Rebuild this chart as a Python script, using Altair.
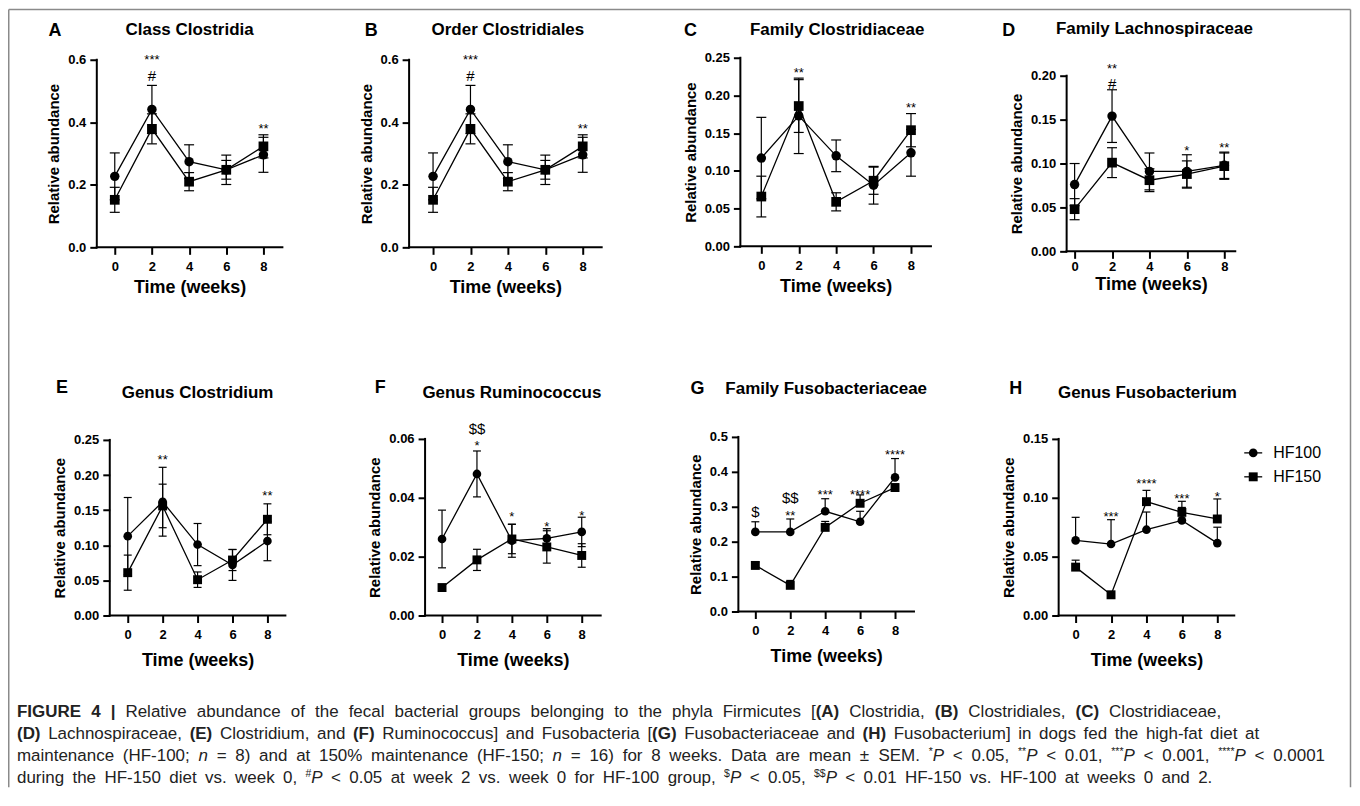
import re
import altair as alt
import pandas as pd

FONT = "Liberation Sans"

# ---------------- data (mean, SEM) ----------------
WEEKS = [0, 2, 4, 6, 8]
GROUPS = ["HF100", "HF150"]

CLOSTRIDIA_HF100 = [0.227, 0.441, 0.274, 0.248, 0.296]
CLOSTRIDIA_HF100_SEM = [0.075, 0.077, 0.054, 0.047, 0.056]
CLOSTRIDIA_HF150 = [0.152, 0.379, 0.210, 0.248, 0.323]
CLOSTRIDIA_HF150_SEM = [0.040, 0.048, 0.029, 0.030, 0.037]

CLOSTRIDIALES_HF100 = [0.227, 0.441, 0.274, 0.248, 0.296]
CLOSTRIDIALES_HF100_SEM = [0.075, 0.077, 0.054, 0.047, 0.056]
CLOSTRIDIALES_HF150 = [0.152, 0.379, 0.210, 0.248, 0.323]
CLOSTRIDIALES_HF150_SEM = [0.040, 0.048, 0.029, 0.030, 0.037]

CLOSTRIDIACEAE_HF100 = [0.117, 0.173, 0.120, 0.081, 0.124]
CLOSTRIDIACEAE_HF100_SEM = [0.054, 0.050, 0.021, 0.025, 0.031]
CLOSTRIDIACEAE_HF150 = [0.066, 0.186, 0.059, 0.087, 0.154]
CLOSTRIDIACEAE_HF150_SEM = [0.027, 0.035, 0.012, 0.018, 0.022]

LACHNO_HF100 = [0.076, 0.154, 0.091, 0.091, 0.098]
LACHNO_HF100_SEM = [0.024, 0.030, 0.021, 0.019, 0.015]
LACHNO_HF150 = [0.048, 0.101, 0.081, 0.088, 0.097]
LACHNO_HF150_SEM = [0.012, 0.017, 0.013, 0.015, 0.015]

CLOSTRIDIUM_HF100 = [0.113, 0.162, 0.101, 0.072, 0.106]
CLOSTRIDIUM_HF100_SEM = [0.055, 0.049, 0.030, 0.022, 0.028]
CLOSTRIDIUM_HF150 = [0.061, 0.156, 0.051, 0.079, 0.137]
CLOSTRIDIUM_HF150_SEM = [0.025, 0.031, 0.011, 0.015, 0.022]

RUMINO_HF100 = [0.0260, 0.0481, 0.0254, 0.0262, 0.0284]
RUMINO_HF100_SEM = [0.0098, 0.0078, 0.0056, 0.0033, 0.0050]
RUMINO_HF150 = [0.0095, 0.0189, 0.0260, 0.0233, 0.0204]
RUMINO_HF150_SEM = [0.0008, 0.0036, 0.0050, 0.0055, 0.0040]

FUSOBACTERIACEAE_HF100 = [0.228, 0.228, 0.287, 0.257, 0.384]
FUSOBACTERIACEAE_HF100_SEM = [0.029, 0.037, 0.036, 0.030, 0.054]
FUSOBACTERIACEAE_HF150 = [0.132, 0.075, 0.241, 0.310, 0.355]
FUSOBACTERIACEAE_HF150_SEM = [0.009, 0.014, 0.017, 0.024, 0.010]

FUSOBACTERIUM_HF100 = [0.0638, 0.0607, 0.0729, 0.0808, 0.0615]
FUSOBACTERIUM_HF100_SEM = [0.0196, 0.0207, 0.0150, 0.0110, 0.0135]
FUSOBACTERIUM_HF150 = [0.0411, 0.0176, 0.0967, 0.0876, 0.0820]
FUSOBACTERIUM_HF150_SEM = [0.0059, 0.0020, 0.0096, 0.0094, 0.0170]

# significance marks: week, height (visual centre), label
SIG_A_WEEK = [2, 2, 8]
SIG_A_Y = [0.598, 0.550, 0.390]
SIG_A_TEXT = ["***", "#", "**"]
SIG_B_WEEK = [2, 2, 8]
SIG_B_Y = [0.598, 0.550, 0.390]
SIG_B_TEXT = ["***", "#", "**"]
SIG_C_WEEK = [2, 8]
SIG_C_Y = [0.235, 0.188]
SIG_C_TEXT = ["**", "**"]
SIG_D_WEEK = [2, 2, 6, 8]
SIG_D_Y = [0.2076, 0.1905, 0.1185, 0.1216]
SIG_D_TEXT = ["**", "#", "*", "**"]
SIG_E_WEEK = [2, 8]
SIG_E_Y = [0.227, 0.175]
SIG_E_TEXT = ["**", "**"]
SIG_F_WEEK = [2, 2, 4, 6, 8]
SIG_F_Y = [0.0634, 0.0588, 0.0346, 0.0314, 0.0350]
SIG_F_TEXT = ["$$", "*", "*", "*", "*"]
SIG_G_WEEK = [0, 2, 2, 4, 6, 8]
SIG_G_Y = [0.284, 0.325, 0.285, 0.344, 0.344, 0.458]
SIG_G_TEXT = ["$", "$$", "**", "***", "****", "****"]
SIG_H_WEEK = [2, 4, 6, 8]
SIG_H_Y = [0.087, 0.1147, 0.102, 0.1034]
SIG_H_TEXT = ["***", "****", "***", "*"]

TITLES = ["Class Clostridia", "Order Clostridiales", "Family Clostridiaceae",
          "Family Lachnospiraceae", "Genus Clostridium", "Genus Ruminococcus",
          "Family Fusobacteriaceae", "Genus Fusobacterium"]
LETTERS = ["A", "B", "C", "D", "E", "F", "G", "H"]

CAPTION_LINES = [
    [("b", "FIGURE 4 |"), ("r", " Relative abundance of the fecal bacterial groups belonging to the phyla Firmicutes ["),
     ("b", "(A)"), ("r", " Clostridia, "), ("b", "(B)"), ("r", " Clostridiales, "), ("b", "(C)"),
     ("r", " Clostridiaceae,")],
    [("b", "(D)"), ("r", " Lachnospiraceae, "), ("b", "(E)"), ("r", " Clostridium, and "), ("b", "(F)"),
     ("r", " Ruminococcus] and Fusobacteria ["), ("b", "(G)"), ("r", " Fusobacteriaceae and "), ("b", "(H)"),
     ("r", " Fusobacterium] in dogs fed the high-fat diet at")],
    [("r", "maintenance (HF-100; "), ("i", "n"), ("r", " = 8) and at 150% maintenance (HF-150; "), ("i", "n"),
     ("r", " = 16) for 8 weeks. Data are mean \u00b1 SEM. "), ("s", "*"), ("i", "P"), ("r", " < 0.05, "),
     ("s", "**"), ("i", "P"), ("r", " < 0.01, "), ("s", "***"), ("i", "P"), ("r", " < 0.001, "),
     ("s", "****"), ("i", "P"), ("r", " < 0.0001")],
    [("r", "during the HF-150 diet vs. week 0, "), ("s", "#"), ("i", "P"),
     ("r", " < 0.05 at week 2 vs. week 0 for HF-100 group, "), ("s", "$"), ("i", "P"), ("r", " < 0.05, "),
     ("s", "$$"), ("i", "P"), ("r", " < 0.01 HF-150 vs. HF-100 at weeks 0 and 2.")],
]

PANELS = [
    dict(m100=CLOSTRIDIA_HF100, s100=CLOSTRIDIA_HF100_SEM, m150=CLOSTRIDIA_HF150, s150=CLOSTRIDIA_HF150_SEM,
         yticks=[0, 0.2, 0.4, 0.6], fmt=".1f", both=True, sig=(SIG_A_WEEK, SIG_A_Y, SIG_A_TEXT)),
    dict(m100=CLOSTRIDIALES_HF100, s100=CLOSTRIDIALES_HF100_SEM, m150=CLOSTRIDIALES_HF150, s150=CLOSTRIDIALES_HF150_SEM,
         yticks=[0, 0.2, 0.4, 0.6], fmt=".1f", both=True, sig=(SIG_B_WEEK, SIG_B_Y, SIG_B_TEXT)),
    dict(m100=CLOSTRIDIACEAE_HF100, s100=CLOSTRIDIACEAE_HF100_SEM, m150=CLOSTRIDIACEAE_HF150, s150=CLOSTRIDIACEAE_HF150_SEM,
         yticks=[0, 0.05, 0.10, 0.15, 0.20, 0.25], fmt=".2f", both=True, sig=(SIG_C_WEEK, SIG_C_Y, SIG_C_TEXT)),
    dict(m100=LACHNO_HF100, s100=LACHNO_HF100_SEM, m150=LACHNO_HF150, s150=LACHNO_HF150_SEM,
         yticks=[0, 0.05, 0.10, 0.15, 0.20], fmt=".2f", both=True, sig=(SIG_D_WEEK, SIG_D_Y, SIG_D_TEXT)),
    dict(m100=CLOSTRIDIUM_HF100, s100=CLOSTRIDIUM_HF100_SEM, m150=CLOSTRIDIUM_HF150, s150=CLOSTRIDIUM_HF150_SEM,
         yticks=[0, 0.05, 0.10, 0.15, 0.20, 0.25], fmt=".2f", both=True, sig=(SIG_E_WEEK, SIG_E_Y, SIG_E_TEXT)),
    dict(m100=RUMINO_HF100, s100=RUMINO_HF100_SEM, m150=RUMINO_HF150, s150=RUMINO_HF150_SEM,
         yticks=[0, 0.02, 0.04, 0.06], fmt=".2f", both=True, sig=(SIG_F_WEEK, SIG_F_Y, SIG_F_TEXT)),
    dict(m100=FUSOBACTERIACEAE_HF100, s100=FUSOBACTERIACEAE_HF100_SEM, m150=FUSOBACTERIACEAE_HF150,
         s150=FUSOBACTERIACEAE_HF150_SEM, yticks=[0, 0.1, 0.2, 0.3, 0.4, 0.5], fmt=".1f", both=False,
         sig=(SIG_G_WEEK, SIG_G_Y, SIG_G_TEXT)),
    dict(m100=FUSOBACTERIUM_HF100, s100=FUSOBACTERIUM_HF100_SEM, m150=FUSOBACTERIUM_HF150,
         s150=FUSOBACTERIUM_HF150_SEM, yticks=[0, 0.05, 0.10, 0.15], fmt=".2f", both=False,
         sig=(SIG_H_WEEK, SIG_H_Y, SIG_H_TEXT)),
]

# ---------------- layout (page pixels) ----------------
CW, CH = 320, 340
CELL_LEFT = [40, 360, 680, 1000]
ROW_TOP = [40, 380]
# y-axis x, tick-0 x, tick-8 x, x-axis end, top of y-axis, x-axis y
GEOM = [(97, 115, 264, 283, 59, 247), (410, 434, 584, 603, 59, 247),
        (742, 763, 913, 933, 57, 246), (1069, 1077, 1227, 1238, 75, 251),
        (110, 128, 268, 286, 440, 616), (426, 443, 583, 602, 439, 616),
        (740, 757, 897, 916, 437, 612), (1061, 1078, 1220, 1237, 439, 616)]
# x-axis label padding / title padding per panel
XPAD = [(6, 5), (6, 5), (6, 5), (2, 2), (6, 10), (6, 10), (6, 10), (6, 10)]
TITLE_XY = [(190, 29), (509, 29), (839, 29), (1157, 28), (198, 393), (513, 393), (828, 389), (1150, 393)]
LETTER_XY = [(55, 30), (372, 30), (692, 30), (1011, 30), (62, 388), (381, 388), (699, 389), (1018, 389)]
STAR_FS, SYM_FS = 13, 15
ASC, DESC = 0.905, 0.212  # font box (em)


def glyph_centre(label):
    return 0.585 if "*" in label else (0.36 if label[0] == "#" else 0.33)


def label_fs(label):
    return STAR_FS if "*" in label else SYM_FS


ONE = pd.DataFrame({"k": [0]})


def build_panel(i, P):
    col, row = i % 4, i // 4
    Lc, Tr = CELL_LEFT[col], ROW_TOP[row]
    x0, t0, t8, x1, ytop, ybot = GEOM[i]
    s = (t8 - t0) / 8.0
    dlo = -(t0 - Lc) / s
    dhi = dlo + CW / s
    vmax = P["yticks"][-1]
    k = (ybot - ytop) / vmax
    ylo = (ybot - Tr - CH) / k
    yhi = ylo + CH / k
    xs = alt.Scale(domain=[dlo, dhi], nice=False, zero=False)
    ys = alt.Scale(domain=[ylo, yhi], nice=False, zero=False)

    common = dict(domain=False, grid=False, tickColor="black", tickWidth=2, tickSize=7,
                  labelFont=FONT, labelFontSize=13, labelFontWeight="bold", labelColor="black",
                  titleFont=FONT, titleFontWeight="bold", titleColor="black")
    lp, tp = XPAD[i]
    xaxis = alt.Axis(values=WEEKS, format="d", title="Time (weeks)", offset=-(Tr + CH - ybot),
                     titleX=(x0 + x1) / 2.0 - Lc, titleFontSize=18, titlePadding=tp, labelPadding=lp,
                     labelFlush=False, **common)
    yaxis = alt.Axis(values=P["yticks"], format=P["fmt"], title="Relative abundance", offset=-(x0 - Lc),
                     titleY=(ytop + ybot) / 2.0 - Tr, titleFontSize=15, titlePadding=6, labelPadding=4,
                     **common)

    rows, caps = [], []
    for g, m, e in (("HF100", P["m100"], P["s100"]), ("HF150", P["m150"], P["s150"])):
        for w, mv, ev in zip(WEEKS, m, e):
            lo = mv - ev if P["both"] else mv
            rows.append(dict(week=w, group=g, mean=mv, lo=lo, hi=mv + ev))
            caps.append(dict(week=w, cap=mv + ev))
            if P["both"]:
                caps.append(dict(week=w, cap=mv - ev))
    df = pd.DataFrame(rows)
    cdf = pd.DataFrame(caps)
    axdf = pd.DataFrame({"xa": [(x0 - t0) / s], "xb": [(x1 - t0) / s], "zero": [0.0], "top": [vmax]})

    X = lambda f: alt.X(f, scale=xs, axis=xaxis)
    Y = lambda f: alt.Y(f, scale=ys, axis=yaxis)
    msize_c = 90 if row == 0 else 75
    msize_s = 95 if row == 0 else 80
    capw = 5 if row == 0 else 4

    layers = [
        alt.Chart(axdf).mark_rule(color="black", strokeWidth=2, strokeCap="square").encode(
            x=X("xa:Q"), x2="xb:Q", y=Y("zero:Q")),
        alt.Chart(axdf).mark_rule(color="black", strokeWidth=2, strokeCap="square").encode(
            x=X("xa:Q"), y=Y("zero:Q"), y2="top:Q"),
        alt.Chart(df).mark_rule(color="black", strokeWidth=1.2).encode(x=X("week:Q"), y=Y("lo:Q"), y2="hi:Q"),
        alt.Chart(cdf).mark_rule(color="black", strokeWidth=1.2, xOffset=-capw, x2Offset=capw).encode(
            x=X("week:Q"), x2="week:Q", y=Y("cap:Q")),
        alt.Chart(df).mark_line(color="black", strokeWidth=1.3).encode(
            x=X("week:Q"), y=Y("mean:Q"), detail="group:N"),
        alt.Chart(df[df.group == "HF100"]).mark_point(shape="circle", filled=True, opacity=1, color="black",
                                                     size=msize_c).encode(x=X("week:Q"), y=Y("mean:Q")),
        alt.Chart(df[df.group == "HF150"]).mark_point(shape="square", filled=True, opacity=1, color="black",
                                                     size=msize_s).encode(x=X("week:Q"), y=Y("mean:Q")),
    ]

    # significance labels; a stacked pair is nudged apart just enough that their boxes do not touch
    sw, sy, st = P["sig"]
    by_week = {}
    for w, yv, t in zip(sw, sy, st):
        by_week.setdefault(w, []).append([yv, t])
    sig_rows = []
    for w, items in by_week.items():
        items.sort(key=lambda a: -a[0])
        if len(items) == 2:
            (yu, tu), (yl, tl) = items
            need = (glyph_centre(tu) + DESC) * label_fs(tu) + (ASC - glyph_centre(tl)) * label_fs(tl) + 0.5
            if (yu - yl) * k < need:
                items[0][0] = yl + need / k
        for yv, t in items:
            sig_rows.append(dict(week=w, ypos=yv, label=t))
    sig = pd.DataFrame(sig_rows)
    for kind in ("star", "hash", "dollar"):
        sub = sig[sig["label"].map(lambda t: ("star" if "*" in t else ("hash" if t[0] == "#" else "dollar")) == kind)]
        if len(sub) == 0:
            continue
        lab = sub["label"].iloc[0]
        layers.append(alt.Chart(sub).mark_text(
            font=FONT, fontSize=label_fs(lab), color="black", baseline="alphabetic", align="center",
            dy=glyph_centre(lab) * label_fs(lab)).encode(x=X("week:Q"), y=Y("ypos:Q"), text="label:N"))

    tx, ty = TITLE_XY[i]
    lx, ly = LETTER_XY[i]
    layers.append(alt.Chart(ONE).mark_text(
        text=TITLES[i], font=FONT, fontSize=17, fontWeight="bold", color="black", baseline="middle",
        align="center").encode(x=alt.value(tx - Lc), y=alt.value(ty - Tr)))
    layers.append(alt.Chart(ONE).mark_text(
        text=LETTERS[i], font=FONT, fontSize=18, fontWeight="bold", color="black", baseline="middle",
        align="center").encode(x=alt.value(lx - Lc), y=alt.value(ly - Tr)))

    if i == 7:  # legend
        for gi, (g, shp, sz) in enumerate((("HF100", "circle", 75), ("HF150", "square", 80))):
            yy = 453 + 24 * gi - Tr
            layers.append(alt.Chart(ONE).mark_rule(color="black", strokeWidth=1.3).encode(
                x=alt.value(1247 - Lc), x2=alt.value(1265 - Lc), y=alt.value(yy)))
            layers.append(alt.Chart(ONE).mark_point(shape=shp, filled=True, opacity=1, color="black", size=sz).encode(
                x=alt.value(1256 - Lc), y=alt.value(yy)))
            layers.append(alt.Chart(ONE).mark_text(
                text=g, font=FONT, fontSize=16, color="black", align="left", baseline="middle").encode(
                x=alt.value(1276 - Lc), y=alt.value(yy)))

    return alt.layer(*layers).properties(width=CW, height=CH)


# ---------------- caption ----------------
REG_W = {" ": 278, "#": 556, "$": 556, "%": 889, "(": 333, ")": 333, "*": 389, ",": 278, "-": 333, ".": 278,
         ":": 278, ";": 278, "<": 584, "=": 584, "[": 278, "]": 278, "|": 260, "\u00b1": 584}
for c in "0123456789":
    REG_W[c] = 556
REG_W.update(dict(A=667, B=667, C=722, D=722, E=667, F=611, G=778, H=722, I=278, J=500, K=667, L=556, M=833,
                  N=722, O=778, P=667, Q=778, R=722, S=667, T=611, U=722, V=667, W=944, X=667, Y=667, Z=611))
REG_W.update(dict(a=556, b=556, c=500, d=556, e=556, f=278, g=556, h=556, i=222, j=222, k=500, l=222, m=833,
                  n=556, o=556, p=556, q=556, r=333, s=500, t=278, u=556, v=500, w=722, x=500, y=500, z=500))
BOLD_W = dict(REG_W)
BOLD_W.update({"A": 722, "B": 722, "C": 722, "D": 722, "E": 667, "F": 611, "G": 778, "H": 722, "I": 278,
               "R": 722, "U": 722, "|": 280})
CAP_FS = 17
SUP = 0.62
CAP_X0 = 17
CAP_X1 = [1224, 1262, 1328, 1215]
CAP_BASE = [717.5, 739.5, 761.5, 783.5]
CAP_CELL = (CELL_LEFT[0], ROW_TOP[1] + CH)


def seg_w(style, t):
    table = BOLD_W if style == "b" else REG_W
    sc = SUP if style == "s" else 1.0
    return sum(table.get(ch, 556) for ch in t) / 1000.0 * CAP_FS * sc


cap_rows = []
for li, segs in enumerate(CAPTION_LINES):
    items = []
    for style, text in segs:
        for part in re.split(r"( +)", text):
            if part:
                items.append((style, part, part.startswith(" ")))
    natural = sum(seg_w(st_, t) for st_, t, _ in items)
    nsp = sum(len(t) for _, t, sp in items if sp)
    extra = (CAP_X1[li] - CAP_X0 - natural) / nsp
    x = CAP_X0
    for st_, t, sp in items:
        if sp:
            x += seg_w(st_, t) + extra * len(t)
        else:
            yb = CAP_BASE[li] - (0.36 * CAP_FS if st_ == "s" else 0)
            cap_rows.append(dict(x=x - CAP_CELL[0], y=yb - CAP_CELL[1], text=t, style=st_))
            x += seg_w(st_, t)
cap_df = pd.DataFrame(cap_rows)

cap_layers = []
for st_, kw in (("r", {}), ("b", {"fontWeight": "bold"}), ("i", {"fontStyle": "italic"}),
                ("s", {"fontSize": CAP_FS * SUP})):
    opts = dict(font=FONT, fontSize=CAP_FS, color="#222222", align="left", baseline="alphabetic")
    opts.update(kw)
    cap_layers.append(alt.Chart(cap_df[cap_df["style"] == st_]).mark_text(**opts).encode(
        x=alt.X("x:Q", scale=None), y=alt.Y("y:Q", scale=None), text="text:N"))

# figure frame (left, top, right) relative to the caption cell
bx0, by0 = -31.25, -(CAP_CELL[1] - ROW_TOP[0]) - 31.25
bx1, by1 = 1353.5 - CAP_CELL[0], 788 - CAP_CELL[1]
frame = [
    alt.Chart(ONE).mark_rule(color="#8a8a8a", strokeWidth=1.5).encode(
        x=alt.value(bx0), y=alt.value(by0), y2=alt.value(by1)),
    alt.Chart(ONE).mark_rule(color="#8a8a8a", strokeWidth=1.5).encode(
        x=alt.value(bx0), x2=alt.value(bx1), y=alt.value(by0)),
    alt.Chart(ONE).mark_rule(color="#8a8a8a", strokeWidth=1.5).encode(
        x=alt.value(bx1), y=alt.value(by0), y2=alt.value(by1)),
]
caption_cell = alt.layer(*frame, *cap_layers).properties(width=CW, height=20)

cells = [build_panel(i, P) for i, P in enumerate(PANELS)] + [caption_cell]
chart = alt.concat(*cells, columns=4, spacing=0, bounds="flush", align="each").properties(
    padding=0, background="white"
).configure_view(stroke=None)

chart.save("out.html", embed_options={"renderer": "svg", "actions": False})
